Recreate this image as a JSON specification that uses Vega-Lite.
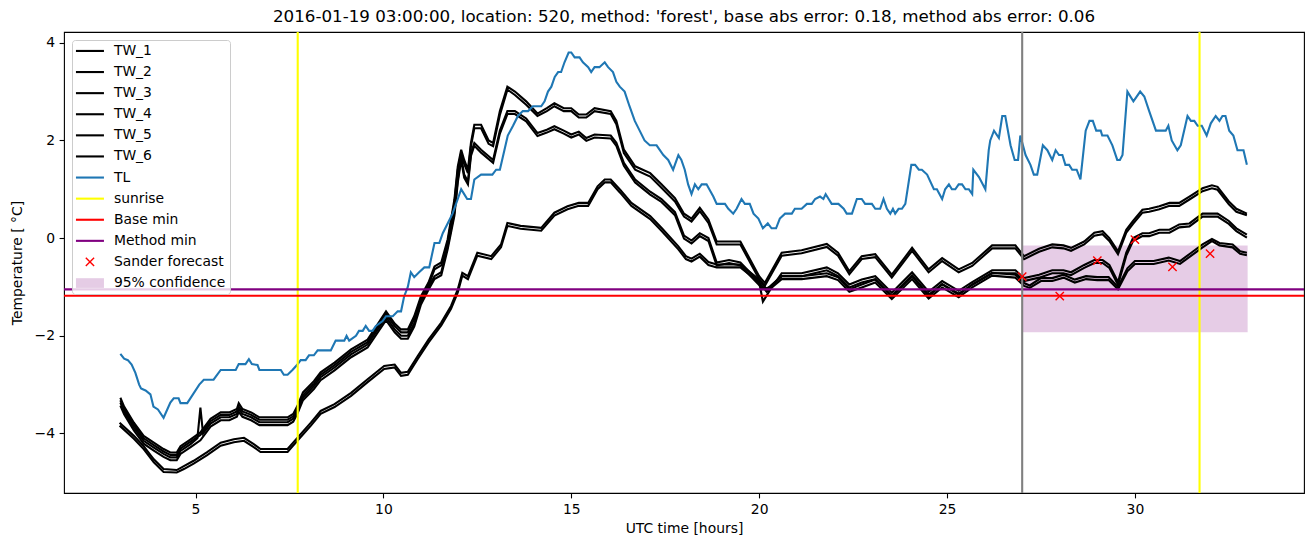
{
  "$schema": "https://vega.github.io/schema/vega-lite/v6.json",
  "width": 1240,
  "height": 461,
  "autosize": {"type": "none"},
  "padding": {"left": 64, "top": 32, "right": 9, "bottom": 54},
  "config": {
    "font": "DejaVu Sans",
    "view": {"stroke": "black", "strokeWidth": 1.1},
    "axis": {"labelFontSize": 13.9, "titleFontSize": 13.9, "labelColor": "black", "titleColor": "black", "tickColor": "black", "tickSize": 4.9, "tickWidth": 1.1, "domain": false, "grid": false, "labelPadding": 4.5, "titleFontWeight": "normal", "labelFont": "DejaVu Sans", "titleFont": "DejaVu Sans"}
  },
  "title": {"text": "2016-01-19 03:00:00, location: 520, method: 'forest', base abs error: 0.18, method abs error: 0.06", "fontSize": 16.7, "fontWeight": "normal", "font": "DejaVu Sans", "color": "black", "offset": 5, "anchor": "middle"},
  "datasets": {
    "tw": [
{"s":"TW_1","h":3.0,"v":-3.27},{"s":"TW_1","h":3.1,"v":-3.45},{"s":"TW_1","h":3.36,"v":-3.78},{"s":"TW_1","h":3.62,"v":-4.05},{"s":"TW_1","h":3.89,"v":-4.19},{"s":"TW_1","h":4.15,"v":-4.32},{"s":"TW_1","h":4.33,"v":-4.39},{"s":"TW_1","h":4.5,"v":-4.39},{"s":"TW_1","h":4.6,"v":-4.26},{"s":"TW_1","h":4.87,"v":-4.12},{"s":"TW_1","h":5.13,"v":-3.98},{"s":"TW_1","h":5.4,"v":-3.7},{"s":"TW_1","h":5.67,"v":-3.57},{"s":"TW_1","h":5.9,"v":-3.57},{"s":"TW_1","h":6.1,"v":-3.5},{"s":"TW_1","h":6.15,"v":-3.38},{"s":"TW_1","h":6.25,"v":-3.5},{"s":"TW_1","h":6.48,"v":-3.57},{"s":"TW_1","h":6.7,"v":-3.67},{"s":"TW_1","h":7.45,"v":-3.67},{"s":"TW_1","h":7.6,"v":-3.6},{"s":"TW_1","h":7.71,"v":-3.44},{"s":"TW_1","h":7.86,"v":-3.16},{"s":"TW_1","h":8.15,"v":-2.93},{"s":"TW_1","h":8.33,"v":-2.75},{"s":"TW_1","h":8.7,"v":-2.55},{"s":"TW_1","h":9.14,"v":-2.28},{"s":"TW_1","h":9.58,"v":-2.08},{"s":"TW_1","h":10.07,"v":-1.5},{"s":"TW_1","h":10.3,"v":-1.75},{"s":"TW_1","h":10.47,"v":-1.87},{"s":"TW_1","h":10.65,"v":-1.87},{"s":"TW_1","h":10.82,"v":-1.6},
{"s":"TW_1","h":11.0,"v":-1.19},{"s":"TW_1","h":11.2,"v":-0.91},{"s":"TW_1","h":11.36,"v":-0.58},{"s":"TW_1","h":11.54,"v":-0.5},{"s":"TW_1","h":11.71,"v":-0.03},{"s":"TW_1","h":11.89,"v":0.79},{"s":"TW_1","h":11.98,"v":1.47},{"s":"TW_1","h":12.07,"v":1.81},{"s":"TW_1","h":12.15,"v":1.6},{"s":"TW_1","h":12.25,"v":1.4},{"s":"TW_1","h":12.33,"v":1.95},{"s":"TW_1","h":12.42,"v":2.32},{"s":"TW_1","h":12.6,"v":2.32},{"s":"TW_1","h":12.8,"v":2.0},{"s":"TW_1","h":12.92,"v":1.95},{"s":"TW_1","h":13.1,"v":2.6},{"s":"TW_1","h":13.3,"v":3.1},{"s":"TW_1","h":13.5,"v":3.0},{"s":"TW_1","h":13.8,"v":2.8},{"s":"TW_1","h":14.1,"v":2.55},{"s":"TW_1","h":14.35,"v":2.66},{"s":"TW_1","h":14.55,"v":2.76},{"s":"TW_1","h":14.8,"v":2.66},{"s":"TW_1","h":15.0,"v":2.66},{"s":"TW_1","h":15.2,"v":2.53},{"s":"TW_1","h":15.4,"v":2.53},{"s":"TW_1","h":15.62,"v":2.66},{"s":"TW_1","h":16.05,"v":2.6},{"s":"TW_1","h":16.2,"v":2.4},{"s":"TW_1","h":16.4,"v":1.81},{"s":"TW_1","h":16.7,"v":1.47},{"s":"TW_1","h":17.1,"v":1.33},{"s":"TW_1","h":17.4,"v":1.1},{"s":"TW_1","h":17.76,"v":0.82},{"s":"TW_1","h":18.0,"v":0.5},{"s":"TW_1","h":18.2,"v":0.4},{"s":"TW_1","h":18.42,"v":0.62},{"s":"TW_1","h":18.65,"v":0.38},{"s":"TW_1","h":18.87,"v":-0.07},{"s":"TW_1","h":19.5,"v":-0.07},{"s":"TW_1","h":20.0,"v":-0.78},{"s":"TW_1","h":20.15,"v":-0.92},{"s":"TW_1","h":20.6,"v":-0.3},{"s":"TW_1","h":21.13,"v":-0.25},{"s":"TW_1","h":21.8,"v":-0.12},{"s":"TW_1","h":22.1,"v":-0.3},{"s":"TW_1","h":22.4,"v":-0.68},{"s":"TW_1","h":22.73,"v":-0.37},{"s":"TW_1","h":23.09,"v":-0.33},{"s":"TW_1","h":23.53,"v":-0.75},{"s":"TW_1","h":24.07,"v":-0.2},{"s":"TW_1","h":24.51,"v":-0.64},{"s":"TW_1","h":24.87,"v":-0.41},{"s":"TW_1","h":25.31,"v":-0.64},{"s":"TW_1","h":25.67,"v":-0.51},{"s":"TW_1","h":26.2,"v":-0.15},{"s":"TW_1","h":26.82,"v":-0.15},{"s":"TW_1","h":27.05,"v":-0.37},{"s":"TW_1","h":27.45,"v":-0.22},{"s":"TW_1","h":27.8,"v":-0.13},{"s":"TW_1","h":28.1,"v":-0.15},{"s":"TW_1","h":28.3,"v":-0.2},{"s":"TW_1","h":28.65,"v":-0.07},{"s":"TW_1","h":28.92,"v":0.11},{"s":"TW_1","h":29.14,"v":0.14},{"s":"TW_1","h":29.32,"v":0.0},{"s":"TW_1","h":29.55,"v":-0.27},{"s":"TW_1","h":29.77,"v":0.17},{"s":"TW_1","h":29.95,"v":0.35},{"s":"TW_1","h":30.2,"v":0.58},{"s":"TW_1","h":30.38,"v":0.6},{"s":"TW_1","h":30.65,"v":0.65},{"s":"TW_1","h":30.92,"v":0.72},{"s":"TW_1","h":31.18,"v":0.72},{"s":"TW_1","h":31.45,"v":0.85},{"s":"TW_1","h":31.8,"v":1.02},{"s":"TW_1","h":32.05,"v":1.08},{"s":"TW_1","h":32.2,"v":1.05},{"s":"TW_1","h":32.5,"v":0.75},{"s":"TW_1","h":32.7,"v":0.6},{"s":"TW_1","h":32.98,"v":0.5},
{"s":"TW_2","h":3.0,"v":-3.32},{"s":"TW_2","h":3.1,"v":-3.5},{"s":"TW_2","h":3.36,"v":-3.83},{"s":"TW_2","h":3.62,"v":-4.1},{"s":"TW_2","h":3.89,"v":-4.24},{"s":"TW_2","h":4.15,"v":-4.37},{"s":"TW_2","h":4.33,"v":-4.44},{"s":"TW_2","h":4.5,"v":-4.44},{"s":"TW_2","h":4.6,"v":-4.31},{"s":"TW_2","h":4.87,"v":-4.17},{"s":"TW_2","h":5.13,"v":-4.03},{"s":"TW_2","h":5.4,"v":-3.75},{"s":"TW_2","h":5.67,"v":-3.62},{"s":"TW_2","h":5.9,"v":-3.62},{"s":"TW_2","h":6.1,"v":-3.55},{"s":"TW_2","h":6.15,"v":-3.45},{"s":"TW_2","h":6.25,"v":-3.55},{"s":"TW_2","h":6.48,"v":-3.62},{"s":"TW_2","h":6.7,"v":-3.72},{"s":"TW_2","h":7.45,"v":-3.72},{"s":"TW_2","h":7.6,"v":-3.65},{"s":"TW_2","h":7.71,"v":-3.5},{"s":"TW_2","h":7.86,"v":-3.22},{"s":"TW_2","h":8.15,"v":-2.98},{"s":"TW_2","h":8.33,"v":-2.8},{"s":"TW_2","h":8.7,"v":-2.6},{"s":"TW_2","h":9.14,"v":-2.33},{"s":"TW_2","h":9.58,"v":-2.13},{"s":"TW_2","h":10.07,"v":-1.56},{"s":"TW_2","h":10.3,"v":-1.8},{"s":"TW_2","h":10.47,"v":-1.93},{"s":"TW_2","h":10.65,"v":-1.93},{"s":"TW_2","h":10.82,"v":-1.66},
{"s":"TW_2","h":11.0,"v":-1.25},{"s":"TW_2","h":11.2,"v":-0.97},{"s":"TW_2","h":11.36,"v":-0.64},{"s":"TW_2","h":11.54,"v":-0.56},{"s":"TW_2","h":11.71,"v":-0.09},{"s":"TW_2","h":11.89,"v":0.72},{"s":"TW_2","h":11.98,"v":1.4},{"s":"TW_2","h":12.07,"v":1.75},{"s":"TW_2","h":12.15,"v":1.52},{"s":"TW_2","h":12.25,"v":1.33},{"s":"TW_2","h":12.33,"v":1.88},{"s":"TW_2","h":12.42,"v":2.25},{"s":"TW_2","h":12.6,"v":2.25},{"s":"TW_2","h":12.8,"v":1.93},{"s":"TW_2","h":12.92,"v":1.88},{"s":"TW_2","h":13.1,"v":2.52},{"s":"TW_2","h":13.3,"v":3.04},{"s":"TW_2","h":13.5,"v":2.93},{"s":"TW_2","h":13.8,"v":2.73},{"s":"TW_2","h":14.1,"v":2.5},{"s":"TW_2","h":14.35,"v":2.6},{"s":"TW_2","h":14.55,"v":2.7},{"s":"TW_2","h":14.8,"v":2.6},{"s":"TW_2","h":15.0,"v":2.6},{"s":"TW_2","h":15.2,"v":2.47},{"s":"TW_2","h":15.4,"v":2.47},{"s":"TW_2","h":15.62,"v":2.6},{"s":"TW_2","h":16.05,"v":2.54},{"s":"TW_2","h":16.2,"v":2.33},{"s":"TW_2","h":16.4,"v":1.74},{"s":"TW_2","h":16.7,"v":1.4},{"s":"TW_2","h":17.1,"v":1.26},{"s":"TW_2","h":17.4,"v":1.03},{"s":"TW_2","h":17.76,"v":0.75},{"s":"TW_2","h":18.0,"v":0.44},{"s":"TW_2","h":18.2,"v":0.34},{"s":"TW_2","h":18.42,"v":0.55},{"s":"TW_2","h":18.65,"v":0.31},{"s":"TW_2","h":18.87,"v":-0.13},{"s":"TW_2","h":19.5,"v":-0.13},{"s":"TW_2","h":20.0,"v":-0.84},{"s":"TW_2","h":20.15,"v":-0.98},{"s":"TW_2","h":20.6,"v":-0.36},{"s":"TW_2","h":21.13,"v":-0.31},{"s":"TW_2","h":21.8,"v":-0.18},{"s":"TW_2","h":22.1,"v":-0.36},{"s":"TW_2","h":22.4,"v":-0.74},{"s":"TW_2","h":22.73,"v":-0.43},{"s":"TW_2","h":23.09,"v":-0.39},{"s":"TW_2","h":23.53,"v":-0.81},{"s":"TW_2","h":24.07,"v":-0.26},{"s":"TW_2","h":24.51,"v":-0.7},{"s":"TW_2","h":24.87,"v":-0.47},{"s":"TW_2","h":25.31,"v":-0.7},{"s":"TW_2","h":25.67,"v":-0.57},{"s":"TW_2","h":26.2,"v":-0.21},{"s":"TW_2","h":26.82,"v":-0.21},{"s":"TW_2","h":27.05,"v":-0.43},{"s":"TW_2","h":27.45,"v":-0.28},{"s":"TW_2","h":27.8,"v":-0.19},{"s":"TW_2","h":28.1,"v":-0.21},{"s":"TW_2","h":28.3,"v":-0.26},{"s":"TW_2","h":28.65,"v":-0.13},{"s":"TW_2","h":28.92,"v":0.05},{"s":"TW_2","h":29.14,"v":0.08},{"s":"TW_2","h":29.32,"v":-0.06},{"s":"TW_2","h":29.55,"v":-0.33},{"s":"TW_2","h":29.77,"v":0.11},{"s":"TW_2","h":29.95,"v":0.29},{"s":"TW_2","h":30.2,"v":0.52},{"s":"TW_2","h":30.38,"v":0.54},{"s":"TW_2","h":30.65,"v":0.59},{"s":"TW_2","h":30.92,"v":0.66},{"s":"TW_2","h":31.18,"v":0.66},{"s":"TW_2","h":31.45,"v":0.79},{"s":"TW_2","h":31.8,"v":0.96},{"s":"TW_2","h":32.05,"v":1.02},{"s":"TW_2","h":32.2,"v":0.99},{"s":"TW_2","h":32.5,"v":0.69},{"s":"TW_2","h":32.7,"v":0.54},{"s":"TW_2","h":32.98,"v":0.47},
{"s":"TW_3","h":3.0,"v":-3.37},{"s":"TW_3","h":3.1,"v":-3.55},{"s":"TW_3","h":3.36,"v":-3.88},{"s":"TW_3","h":3.62,"v":-4.15},{"s":"TW_3","h":3.89,"v":-4.29},{"s":"TW_3","h":4.15,"v":-4.42},{"s":"TW_3","h":4.33,"v":-4.49},{"s":"TW_3","h":4.5,"v":-4.49},{"s":"TW_3","h":4.6,"v":-4.36},{"s":"TW_3","h":4.87,"v":-4.22},{"s":"TW_3","h":5.05,"v":-4.1},{"s":"TW_3","h":5.13,"v":-3.47},{"s":"TW_3","h":5.2,"v":-4.0},{"s":"TW_3","h":5.4,"v":-3.8},{"s":"TW_3","h":5.67,"v":-3.67},{"s":"TW_3","h":5.9,"v":-3.67},{"s":"TW_3","h":6.1,"v":-3.6},{"s":"TW_3","h":6.15,"v":-3.5},{"s":"TW_3","h":6.25,"v":-3.6},{"s":"TW_3","h":6.48,"v":-3.67},{"s":"TW_3","h":6.7,"v":-3.77},{"s":"TW_3","h":7.45,"v":-3.77},{"s":"TW_3","h":7.6,"v":-3.7},{"s":"TW_3","h":7.71,"v":-3.55},{"s":"TW_3","h":7.86,"v":-3.27},{"s":"TW_3","h":8.15,"v":-3.03},{"s":"TW_3","h":8.33,"v":-2.85},{"s":"TW_3","h":8.7,"v":-2.65},{"s":"TW_3","h":9.14,"v":-2.38},{"s":"TW_3","h":9.58,"v":-2.18},{"s":"TW_3","h":10.07,"v":-1.62},{"s":"TW_3","h":10.3,"v":-1.87},{"s":"TW_3","h":10.47,"v":-2.0},{"s":"TW_3","h":10.65,"v":-2.0},
{"s":"TW_3","h":10.82,"v":-1.75},{"s":"TW_3","h":11.0,"v":-1.3},{"s":"TW_3","h":11.2,"v":-1.0},{"s":"TW_3","h":11.36,"v":-0.78},{"s":"TW_3","h":11.54,"v":-0.7},{"s":"TW_3","h":11.71,"v":-0.17},{"s":"TW_3","h":11.89,"v":0.52},{"s":"TW_3","h":11.98,"v":1.2},{"s":"TW_3","h":12.07,"v":1.67},{"s":"TW_3","h":12.15,"v":1.3},{"s":"TW_3","h":12.25,"v":1.16},{"s":"TW_3","h":12.33,"v":1.74},{"s":"TW_3","h":12.42,"v":1.95},{"s":"TW_3","h":12.6,"v":1.81},{"s":"TW_3","h":12.92,"v":1.6},{"s":"TW_3","h":13.1,"v":2.2},{"s":"TW_3","h":13.3,"v":2.6},{"s":"TW_3","h":13.5,"v":2.6},{"s":"TW_3","h":13.8,"v":2.45},{"s":"TW_3","h":14.1,"v":2.15},{"s":"TW_3","h":14.35,"v":2.22},{"s":"TW_3","h":14.55,"v":2.29},{"s":"TW_3","h":14.8,"v":2.2},{"s":"TW_3","h":15.0,"v":2.12},{"s":"TW_3","h":15.2,"v":2.18},{"s":"TW_3","h":15.4,"v":2.05},{"s":"TW_3","h":15.62,"v":2.12},{"s":"TW_3","h":16.05,"v":2.1},{"s":"TW_3","h":16.2,"v":1.95},{"s":"TW_3","h":16.4,"v":1.54},{"s":"TW_3","h":16.7,"v":1.2},{"s":"TW_3","h":17.1,"v":0.95},{"s":"TW_3","h":17.4,"v":0.8},{"s":"TW_3","h":17.76,"v":0.53},{"s":"TW_3","h":18.0,"v":0.05},{"s":"TW_3","h":18.2,"v":-0.05},{"s":"TW_3","h":18.42,"v":0.1},{"s":"TW_3","h":18.65,"v":0.0},{"s":"TW_3","h":18.87,"v":-0.5},{"s":"TW_3","h":19.2,"v":-0.45},{"s":"TW_3","h":19.5,"v":-0.5},{"s":"TW_3","h":20.0,"v":-0.9},{"s":"TW_3","h":20.1,"v":-1.3},{"s":"TW_3","h":20.3,"v":-1.05},{"s":"TW_3","h":20.6,"v":-0.72},{"s":"TW_3","h":21.13,"v":-0.72},{"s":"TW_3","h":21.8,"v":-0.6},{"s":"TW_3","h":22.1,"v":-0.72},{"s":"TW_3","h":22.4,"v":-0.95},{"s":"TW_3","h":22.73,"v":-0.85},{"s":"TW_3","h":23.09,"v":-0.78},{"s":"TW_3","h":23.53,"v":-1.12},{"s":"TW_3","h":24.07,"v":-0.7},{"s":"TW_3","h":24.51,"v":-1.1},{"s":"TW_3","h":24.87,"v":-0.88},{"s":"TW_3","h":25.31,"v":-1.08},{"s":"TW_3","h":25.67,"v":-0.9},{"s":"TW_3","h":26.2,"v":-0.66},{"s":"TW_3","h":26.82,"v":-0.66},{"s":"TW_3","h":27.05,"v":-0.82},{"s":"TW_3","h":27.45,"v":-0.75},{"s":"TW_3","h":27.8,"v":-0.66},{"s":"TW_3","h":28.1,"v":-0.66},{"s":"TW_3","h":28.3,"v":-0.7},{"s":"TW_3","h":28.65,"v":-0.55},{"s":"TW_3","h":28.92,"v":-0.45},{"s":"TW_3","h":29.14,"v":-0.45},{"s":"TW_3","h":29.32,"v":-0.55},{"s":"TW_3","h":29.55,"v":-0.9},{"s":"TW_3","h":29.77,"v":-0.3},{"s":"TW_3","h":29.95,"v":0.0},{"s":"TW_3","h":30.2,"v":0.1},{"s":"TW_3","h":30.38,"v":0.1},{"s":"TW_3","h":30.65,"v":0.17},{"s":"TW_3","h":30.92,"v":0.17},{"s":"TW_3","h":31.18,"v":0.28},{"s":"TW_3","h":31.45,"v":0.3},{"s":"TW_3","h":31.8,"v":0.5},{"s":"TW_3","h":32.05,"v":0.5},{"s":"TW_3","h":32.2,"v":0.5},{"s":"TW_3","h":32.5,"v":0.35},{"s":"TW_3","h":32.7,"v":0.2},{"s":"TW_3","h":32.98,"v":0.07},
{"s":"TW_4","h":3.0,"v":-3.43},{"s":"TW_4","h":3.1,"v":-3.61},{"s":"TW_4","h":3.36,"v":-3.94},{"s":"TW_4","h":3.62,"v":-4.21},{"s":"TW_4","h":3.89,"v":-4.35},{"s":"TW_4","h":4.15,"v":-4.48},{"s":"TW_4","h":4.33,"v":-4.55},{"s":"TW_4","h":4.5,"v":-4.55},{"s":"TW_4","h":4.6,"v":-4.42},{"s":"TW_4","h":4.87,"v":-4.28},{"s":"TW_4","h":5.13,"v":-4.14},{"s":"TW_4","h":5.4,"v":-3.86},{"s":"TW_4","h":5.67,"v":-3.73},{"s":"TW_4","h":5.9,"v":-3.73},{"s":"TW_4","h":6.1,"v":-3.66},{"s":"TW_4","h":6.15,"v":-3.56},{"s":"TW_4","h":6.25,"v":-3.66},{"s":"TW_4","h":6.48,"v":-3.73},{"s":"TW_4","h":6.7,"v":-3.83},{"s":"TW_4","h":7.45,"v":-3.83},{"s":"TW_4","h":7.6,"v":-3.76},{"s":"TW_4","h":7.71,"v":-3.6},{"s":"TW_4","h":7.86,"v":-3.32},{"s":"TW_4","h":8.15,"v":-3.09},{"s":"TW_4","h":8.33,"v":-2.91},{"s":"TW_4","h":8.7,"v":-2.71},{"s":"TW_4","h":9.14,"v":-2.44},{"s":"TW_4","h":9.58,"v":-2.24},{"s":"TW_4","h":10.07,"v":-1.68},{"s":"TW_4","h":10.3,"v":-1.93},{"s":"TW_4","h":10.47,"v":-2.06},{"s":"TW_4","h":10.65,"v":-2.06},
{"s":"TW_4","h":10.82,"v":-1.81},{"s":"TW_4","h":11.0,"v":-1.36},{"s":"TW_4","h":11.2,"v":-1.06},{"s":"TW_4","h":11.36,"v":-0.84},{"s":"TW_4","h":11.54,"v":-0.76},{"s":"TW_4","h":11.71,"v":-0.23},{"s":"TW_4","h":11.89,"v":0.46},{"s":"TW_4","h":11.98,"v":1.14},{"s":"TW_4","h":12.07,"v":1.6},{"s":"TW_4","h":12.15,"v":1.24},{"s":"TW_4","h":12.25,"v":1.1},{"s":"TW_4","h":12.33,"v":1.68},{"s":"TW_4","h":12.42,"v":1.89},{"s":"TW_4","h":12.6,"v":1.75},{"s":"TW_4","h":12.92,"v":1.54},{"s":"TW_4","h":13.1,"v":2.14},{"s":"TW_4","h":13.3,"v":2.54},{"s":"TW_4","h":13.5,"v":2.54},{"s":"TW_4","h":13.8,"v":2.39},{"s":"TW_4","h":14.1,"v":2.09},{"s":"TW_4","h":14.35,"v":2.16},{"s":"TW_4","h":14.55,"v":2.23},{"s":"TW_4","h":14.8,"v":2.14},{"s":"TW_4","h":15.0,"v":2.06},{"s":"TW_4","h":15.2,"v":2.12},{"s":"TW_4","h":15.4,"v":1.99},{"s":"TW_4","h":15.62,"v":2.06},{"s":"TW_4","h":16.05,"v":2.04},{"s":"TW_4","h":16.2,"v":1.89},{"s":"TW_4","h":16.4,"v":1.48},{"s":"TW_4","h":16.7,"v":1.14},{"s":"TW_4","h":17.1,"v":0.89},{"s":"TW_4","h":17.4,"v":0.74},{"s":"TW_4","h":17.76,"v":0.47},{"s":"TW_4","h":18.0,"v":-0.01},{"s":"TW_4","h":18.2,"v":-0.11},{"s":"TW_4","h":18.42,"v":0.04},{"s":"TW_4","h":18.65,"v":-0.06},{"s":"TW_4","h":18.87,"v":-0.56},{"s":"TW_4","h":19.2,"v":-0.51},{"s":"TW_4","h":19.5,"v":-0.56},{"s":"TW_4","h":20.0,"v":-0.96},{"s":"TW_4","h":20.1,"v":-1.05},{"s":"TW_4","h":20.3,"v":-1.0},{"s":"TW_4","h":20.6,"v":-0.78},{"s":"TW_4","h":21.13,"v":-0.78},{"s":"TW_4","h":21.8,"v":-0.66},{"s":"TW_4","h":22.1,"v":-0.78},{"s":"TW_4","h":22.4,"v":-1.01},{"s":"TW_4","h":22.73,"v":-0.91},{"s":"TW_4","h":23.09,"v":-0.84},{"s":"TW_4","h":23.53,"v":-1.18},{"s":"TW_4","h":24.07,"v":-0.76},{"s":"TW_4","h":24.51,"v":-1.16},{"s":"TW_4","h":24.87,"v":-0.94},{"s":"TW_4","h":25.31,"v":-1.14},{"s":"TW_4","h":25.67,"v":-0.96},{"s":"TW_4","h":26.2,"v":-0.72},{"s":"TW_4","h":26.82,"v":-0.72},{"s":"TW_4","h":27.05,"v":-0.88},{"s":"TW_4","h":27.45,"v":-0.81},{"s":"TW_4","h":27.8,"v":-0.72},{"s":"TW_4","h":28.1,"v":-0.72},{"s":"TW_4","h":28.3,"v":-0.76},{"s":"TW_4","h":28.65,"v":-0.61},{"s":"TW_4","h":28.92,"v":-0.51},{"s":"TW_4","h":29.14,"v":-0.51},{"s":"TW_4","h":29.32,"v":-0.61},{"s":"TW_4","h":29.55,"v":-0.96},{"s":"TW_4","h":29.77,"v":-0.36},{"s":"TW_4","h":29.95,"v":-0.06},{"s":"TW_4","h":30.2,"v":0.04},{"s":"TW_4","h":30.38,"v":0.04},{"s":"TW_4","h":30.65,"v":0.11},{"s":"TW_4","h":30.92,"v":0.11},{"s":"TW_4","h":31.18,"v":0.22},{"s":"TW_4","h":31.45,"v":0.24},{"s":"TW_4","h":31.8,"v":0.44},{"s":"TW_4","h":32.05,"v":0.44},{"s":"TW_4","h":32.2,"v":0.44},{"s":"TW_4","h":32.5,"v":0.29},{"s":"TW_4","h":32.7,"v":0.14},{"s":"TW_4","h":32.98,"v":0.01},
{"s":"TW_5","h":2.98,"v":-3.78},{"s":"TW_5","h":3.36,"v":-4.05},{"s":"TW_5","h":3.62,"v":-4.26},{"s":"TW_5","h":3.89,"v":-4.53},{"s":"TW_5","h":4.15,"v":-4.73},{"s":"TW_5","h":4.5,"v":-4.75},{"s":"TW_5","h":4.69,"v":-4.67},{"s":"TW_5","h":4.95,"v":-4.56},{"s":"TW_5","h":5.3,"v":-4.39},{"s":"TW_5","h":5.67,"v":-4.19},{"s":"TW_5","h":6.02,"v":-4.12},{"s":"TW_5","h":6.29,"v":-4.09},{"s":"TW_5","h":6.55,"v":-4.22},{"s":"TW_5","h":6.73,"v":-4.32},{"s":"TW_5","h":7.45,"v":-4.32},{"s":"TW_5","h":7.71,"v":-4.09},{"s":"TW_5","h":8.07,"v":-3.78},{"s":"TW_5","h":8.33,"v":-3.54},{"s":"TW_5","h":8.7,"v":-3.4},{"s":"TW_5","h":9.14,"v":-3.17},{"s":"TW_5","h":9.58,"v":-2.89},{"s":"TW_5","h":10.02,"v":-2.62},{"s":"TW_5","h":10.3,"v":-2.59},{"s":"TW_5","h":10.47,"v":-2.76},{"s":"TW_5","h":10.65,"v":-2.74},{"s":"TW_5","h":10.91,"v":-2.42},{"s":"TW_5","h":11.2,"v":-2.08},{"s":"TW_5","h":11.54,"v":-1.73},{"s":"TW_5","h":11.8,"v":-1.39},{"s":"TW_5","h":11.98,"v":-1.05},{"s":"TW_5","h":12.1,"v":-0.71},{"s":"TW_5","h":12.25,"v":-0.78},{"s":"TW_5","h":12.5,"v":-0.3},{"s":"TW_5","h":12.87,"v":-0.37},{"s":"TW_5","h":13.13,"v":-0.13},{"s":"TW_5","h":13.3,"v":0.31},{"s":"TW_5","h":13.65,"v":0.25},{"s":"TW_5","h":14.2,"v":0.21},{"s":"TW_5","h":14.55,"v":0.52},{"s":"TW_5","h":14.9,"v":0.65},{"s":"TW_5","h":15.2,"v":0.72},{"s":"TW_5","h":15.45,"v":0.72},{"s":"TW_5","h":15.7,"v":1.06},{"s":"TW_5","h":15.89,"v":1.2},{"s":"TW_5","h":16.05,"v":1.2},{"s":"TW_5","h":16.3,"v":0.99},{"s":"TW_5","h":16.6,"v":0.72},{"s":"TW_5","h":17.1,"v":0.45},{"s":"TW_5","h":17.4,"v":0.21},{"s":"TW_5","h":17.85,"v":-0.17},{"s":"TW_5","h":18.05,"v":-0.37},{"s":"TW_5","h":18.2,"v":-0.42},{"s":"TW_5","h":18.42,"v":-0.32},{"s":"TW_5","h":18.65,"v":-0.49},{"s":"TW_5","h":18.87,"v":-0.54},{"s":"TW_5","h":19.5,"v":-0.54},{"s":"TW_5","h":20.0,"v":-0.85},{"s":"TW_5","h":20.2,"v":-1.05},{"s":"TW_5","h":20.6,"v":-0.78},{"s":"TW_5","h":21.13,"v":-0.78},{"s":"TW_5","h":21.8,"v":-0.72},{"s":"TW_5","h":22.1,"v":-0.8},{"s":"TW_5","h":22.4,"v":-1.05},{"s":"TW_5","h":22.73,"v":-0.95},{"s":"TW_5","h":23.09,"v":-0.85},{"s":"TW_5","h":23.53,"v":-1.2},{"s":"TW_5","h":24.07,"v":-0.78},{"s":"TW_5","h":24.51,"v":-1.19},{"s":"TW_5","h":24.87,"v":-0.95},{"s":"TW_5","h":25.31,"v":-1.16},{"s":"TW_5","h":25.67,"v":-0.95},{"s":"TW_5","h":26.2,"v":-0.71},{"s":"TW_5","h":26.82,"v":-0.75},{"s":"TW_5","h":27.05,"v":-0.92},{"s":"TW_5","h":27.2,"v":-0.97},{"s":"TW_5","h":27.5,"v":-0.82},{"s":"TW_5","h":27.8,"v":-0.82},{"s":"TW_5","h":28.1,"v":-0.75},{"s":"TW_5","h":28.4,"v":-0.85},{"s":"TW_5","h":28.7,"v":-0.78},{"s":"TW_5","h":29.0,"v":-0.8},{"s":"TW_5","h":29.3,"v":-0.8},{"s":"TW_5","h":29.55,"v":-1.0},{"s":"TW_5","h":29.8,"v":-0.62},{"s":"TW_5","h":30.0,"v":-0.47},{"s":"TW_5","h":30.5,"v":-0.47},{"s":"TW_5","h":30.9,"v":-0.4},{"s":"TW_5","h":31.2,"v":-0.47},{"s":"TW_5","h":31.5,"v":-0.3},{"s":"TW_5","h":31.8,"v":-0.13},{"s":"TW_5","h":32.05,"v":-0.02},{"s":"TW_5","h":32.25,"v":-0.1},{"s":"TW_5","h":32.6,"v":-0.13},{"s":"TW_5","h":32.8,"v":-0.27},{"s":"TW_5","h":32.98,"v":-0.3},
{"s":"TW_6","h":2.98,"v":-3.84},{"s":"TW_6","h":3.36,"v":-4.11},{"s":"TW_6","h":3.62,"v":-4.32},{"s":"TW_6","h":3.89,"v":-4.59},{"s":"TW_6","h":4.15,"v":-4.79},{"s":"TW_6","h":4.5,"v":-4.8},{"s":"TW_6","h":4.69,"v":-4.73},{"s":"TW_6","h":4.95,"v":-4.62},{"s":"TW_6","h":5.3,"v":-4.45},{"s":"TW_6","h":5.67,"v":-4.25},{"s":"TW_6","h":6.02,"v":-4.18},{"s":"TW_6","h":6.29,"v":-4.15},{"s":"TW_6","h":6.55,"v":-4.28},{"s":"TW_6","h":6.73,"v":-4.38},{"s":"TW_6","h":7.45,"v":-4.38},{"s":"TW_6","h":7.71,"v":-4.15},{"s":"TW_6","h":8.07,"v":-3.84},{"s":"TW_6","h":8.33,"v":-3.6},{"s":"TW_6","h":8.7,"v":-3.46},{"s":"TW_6","h":9.14,"v":-3.23},{"s":"TW_6","h":9.58,"v":-2.95},{"s":"TW_6","h":10.02,"v":-2.68},{"s":"TW_6","h":10.3,"v":-2.65},{"s":"TW_6","h":10.47,"v":-2.82},{"s":"TW_6","h":10.65,"v":-2.8},{"s":"TW_6","h":10.91,"v":-2.48},{"s":"TW_6","h":11.2,"v":-2.14},{"s":"TW_6","h":11.54,"v":-1.79},{"s":"TW_6","h":11.8,"v":-1.45},{"s":"TW_6","h":11.98,"v":-1.11},{"s":"TW_6","h":12.1,"v":-0.77},{"s":"TW_6","h":12.25,"v":-0.84},{"s":"TW_6","h":12.5,"v":-0.36},{"s":"TW_6","h":12.87,"v":-0.43},{"s":"TW_6","h":13.13,"v":-0.19},{"s":"TW_6","h":13.3,"v":0.25},{"s":"TW_6","h":13.65,"v":0.19},{"s":"TW_6","h":14.2,"v":0.15},{"s":"TW_6","h":14.55,"v":0.46},{"s":"TW_6","h":14.9,"v":0.59},{"s":"TW_6","h":15.2,"v":0.66},{"s":"TW_6","h":15.45,"v":0.66},{"s":"TW_6","h":15.7,"v":1.0},{"s":"TW_6","h":15.89,"v":1.14},{"s":"TW_6","h":16.05,"v":1.14},{"s":"TW_6","h":16.3,"v":0.93},{"s":"TW_6","h":16.6,"v":0.66},{"s":"TW_6","h":17.1,"v":0.39},{"s":"TW_6","h":17.4,"v":0.15},{"s":"TW_6","h":17.85,"v":-0.23},{"s":"TW_6","h":18.05,"v":-0.43},{"s":"TW_6","h":18.2,"v":-0.48},{"s":"TW_6","h":18.42,"v":-0.38},{"s":"TW_6","h":18.65,"v":-0.55},{"s":"TW_6","h":18.87,"v":-0.6},{"s":"TW_6","h":19.5,"v":-0.6},{"s":"TW_6","h":20.0,"v":-0.91},{"s":"TW_6","h":20.2,"v":-1.1},{"s":"TW_6","h":20.6,"v":-0.84},{"s":"TW_6","h":21.13,"v":-0.84},{"s":"TW_6","h":21.8,"v":-0.78},{"s":"TW_6","h":22.1,"v":-0.86},{"s":"TW_6","h":22.4,"v":-1.1},{"s":"TW_6","h":22.73,"v":-1.01},{"s":"TW_6","h":23.09,"v":-0.91},{"s":"TW_6","h":23.53,"v":-1.25},{"s":"TW_6","h":24.07,"v":-0.84},{"s":"TW_6","h":24.51,"v":-1.24},{"s":"TW_6","h":24.87,"v":-1.01},{"s":"TW_6","h":25.31,"v":-1.21},{"s":"TW_6","h":25.67,"v":-1.01},{"s":"TW_6","h":26.2,"v":-0.77},{"s":"TW_6","h":26.82,"v":-0.81},{"s":"TW_6","h":27.05,"v":-0.98},{"s":"TW_6","h":27.2,"v":-1.02},{"s":"TW_6","h":27.5,"v":-0.88},{"s":"TW_6","h":27.8,"v":-0.88},{"s":"TW_6","h":28.1,"v":-0.81},{"s":"TW_6","h":28.4,"v":-0.91},{"s":"TW_6","h":28.7,"v":-0.84},{"s":"TW_6","h":29.0,"v":-0.86},{"s":"TW_6","h":29.3,"v":-0.86},{"s":"TW_6","h":29.55,"v":-1.05},{"s":"TW_6","h":29.8,"v":-0.68},{"s":"TW_6","h":30.0,"v":-0.53},{"s":"TW_6","h":30.5,"v":-0.53},{"s":"TW_6","h":30.9,"v":-0.46},{"s":"TW_6","h":31.2,"v":-0.53},{"s":"TW_6","h":31.5,"v":-0.36},{"s":"TW_6","h":31.8,"v":-0.19},{"s":"TW_6","h":32.05,"v":-0.06},{"s":"TW_6","h":32.25,"v":-0.15},{"s":"TW_6","h":32.6,"v":-0.19},{"s":"TW_6","h":32.8,"v":-0.32},{"s":"TW_6","h":32.98,"v":-0.35},
{"s":"TL","h":3.0,"v":-2.37},{"s":"TL","h":3.1,"v":-2.47},{"s":"TL","h":3.2,"v":-2.5},{"s":"TL","h":3.3,"v":-2.59},{"s":"TL","h":3.4,"v":-2.76},{"s":"TL","h":3.5,"v":-3.0},{"s":"TL","h":3.55,"v":-3.08},{"s":"TL","h":3.67,"v":-3.12},{"s":"TL","h":3.8,"v":-3.2},{"s":"TL","h":3.88,"v":-3.45},{"s":"TL","h":4.0,"v":-3.51},{"s":"TL","h":4.15,"v":-3.68},{"s":"TL","h":4.33,"v":-3.37},{"s":"TL","h":4.42,"v":-3.28},{"s":"TL","h":4.55,"v":-3.28},{"s":"TL","h":4.6,"v":-3.38},{"s":"TL","h":4.78,"v":-3.38},{"s":"TL","h":5.1,"v":-3.0},{"s":"TL","h":5.22,"v":-2.9},{"s":"TL","h":5.48,"v":-2.9},{"s":"TL","h":5.67,"v":-2.7},{"s":"TL","h":6.07,"v":-2.7},{"s":"TL","h":6.15,"v":-2.58},{"s":"TL","h":6.33,"v":-2.58},{"s":"TL","h":6.42,"v":-2.48},{"s":"TL","h":6.5,"v":-2.58},{"s":"TL","h":6.65,"v":-2.6},{"s":"TL","h":6.7,"v":-2.7},{"s":"TL","h":7.27,"v":-2.7},{"s":"TL","h":7.35,"v":-2.8},{"s":"TL","h":7.45,"v":-2.8},{"s":"TL","h":7.58,"v":-2.7},{"s":"TL","h":7.7,"v":-2.6},{"s":"TL","h":7.8,"v":-2.5},{"s":"TL","h":7.93,"v":-2.5},{"s":"TL","h":8.02,"v":-2.4},{"s":"TL","h":8.15,"v":-2.4},{"s":"TL","h":8.25,"v":-2.3},{"s":"TL","h":8.6,"v":-2.3},{"s":"TL","h":8.73,"v":-2.1},{"s":"TL","h":8.96,"v":-2.1},{"s":"TL","h":9.02,"v":-2.0},{"s":"TL","h":9.09,"v":-2.1},{"s":"TL","h":9.27,"v":-2.0},{"s":"TL","h":9.35,"v":-1.9},{"s":"TL","h":9.45,"v":-1.9},{"s":"TL","h":9.53,"v":-1.8},{"s":"TL","h":9.62,"v":-1.9},{"s":"TL","h":9.71,"v":-1.9},{"s":"TL","h":9.8,"v":-1.8},{"s":"TL","h":9.98,"v":-1.7},{"s":"TL","h":10.07,"v":-1.6},{"s":"TL","h":10.25,"v":-1.6},{"s":"TL","h":10.38,"v":-1.5},{"s":"TL","h":10.47,"v":-1.5},{"s":"TL","h":10.55,"v":-1.2},{"s":"TL","h":10.65,"v":-1.0},{"s":"TL","h":10.73,"v":-0.7},{"s":"TL","h":10.82,"v":-0.8},{"s":"TL","h":10.95,"v":-0.7},{"s":"TL","h":11.09,"v":-0.6},{"s":"TL","h":11.22,"v":-0.6},{"s":"TL","h":11.36,"v":-0.1},{"s":"TL","h":11.49,"v":-0.1},{"s":"TL","h":11.58,"v":0.1},{"s":"TL","h":11.71,"v":0.3},{"s":"TL","h":11.84,"v":0.5},{"s":"TL","h":11.98,"v":0.8},{"s":"TL","h":12.07,"v":1.0},{"s":"TL","h":12.15,"v":0.9},{"s":"TL","h":12.23,"v":0.8},{"s":"TL","h":12.33,"v":0.8},{"s":"TL","h":12.42,"v":1.2},{"s":"TL","h":12.6,"v":1.3},{"s":"TL","h":12.9,"v":1.3},{"s":"TL","h":13.0,"v":1.4},{"s":"TL","h":13.1,"v":1.4},{"s":"TL","h":13.22,"v":1.8},{"s":"TL","h":13.31,"v":2.1},{"s":"TL","h":13.45,"v":2.3},{"s":"TL","h":13.58,"v":2.5},{"s":"TL","h":13.71,"v":2.6},{"s":"TL","h":13.85,"v":2.6},{"s":"TL","h":13.98,"v":2.7},{"s":"TL","h":14.2,"v":2.7},{"s":"TL","h":14.29,"v":2.8},{"s":"TL","h":14.38,"v":3.0},{"s":"TL","h":14.47,"v":3.1},{"s":"TL","h":14.56,"v":3.3},{"s":"TL","h":14.65,"v":3.4},{"s":"TL","h":14.73,"v":3.4},{"s":"TL","h":14.82,"v":3.6},{"s":"TL","h":14.93,"v":3.8},{"s":"TL","h":15.0,"v":3.8},{"s":"TL","h":15.09,"v":3.7},{"s":"TL","h":15.22,"v":3.7},{"s":"TL","h":15.31,"v":3.6},{"s":"TL","h":15.45,"v":3.5},{"s":"TL","h":15.53,"v":3.4},{"s":"TL","h":15.62,"v":3.5},{"s":"TL","h":15.75,"v":3.5},{"s":"TL","h":15.89,"v":3.6},{"s":"TL","h":15.98,"v":3.5},{"s":"TL","h":16.11,"v":3.4},{"s":"TL","h":16.2,"v":3.2},{"s":"TL","h":16.29,"v":3.1},{"s":"TL","h":16.42,"v":3.0},{"s":"TL","h":16.55,"v":2.7},{"s":"TL","h":16.69,"v":2.4},{"s":"TL","h":16.82,"v":2.2},{"s":"TL","h":16.95,"v":2.0},{"s":"TL","h":17.09,"v":1.9},{"s":"TL","h":17.27,"v":1.9},{"s":"TL","h":17.45,"v":1.7},{"s":"TL","h":17.58,"v":1.6},{"s":"TL","h":17.71,"v":1.4},{"s":"TL","h":17.85,"v":1.7},{"s":"TL","h":17.93,"v":1.6},{"s":"TL","h":18.02,"v":1.4},{"s":"TL","h":18.11,"v":1.1},{"s":"TL","h":18.2,"v":0.9},{"s":"TL","h":18.29,"v":1.1},{"s":"TL","h":18.38,"v":1.0},{"s":"TL","h":18.47,"v":1.1},{"s":"TL","h":18.6,"v":1.1},{"s":"TL","h":18.78,"v":0.85},{"s":"TL","h":18.87,"v":0.7},{"s":"TL","h":19.09,"v":0.7},{"s":"TL","h":19.18,"v":0.6},{"s":"TL","h":19.31,"v":0.5},{"s":"TL","h":19.4,"v":0.6},{"s":"TL","h":19.53,"v":0.8},{"s":"TL","h":19.62,"v":0.7},{"s":"TL","h":19.75,"v":0.7},{"s":"TL","h":19.85,"v":0.5},{"s":"TL","h":19.98,"v":0.4},{"s":"TL","h":20.1,"v":0.2},{"s":"TL","h":20.23,"v":0.3},{"s":"TL","h":20.33,"v":0.2},{"s":"TL","h":20.45,"v":0.2},{"s":"TL","h":20.55,"v":0.4},{"s":"TL","h":20.69,"v":0.5},{"s":"TL","h":20.87,"v":0.5},{"s":"TL","h":20.95,"v":0.6},{"s":"TL","h":21.13,"v":0.6},{"s":"TL","h":21.27,"v":0.7},{"s":"TL","h":21.4,"v":0.7},{"s":"TL","h":21.49,"v":0.8},{"s":"TL","h":21.62,"v":0.85},{"s":"TL","h":21.71,"v":0.8},{"s":"TL","h":21.77,"v":0.9},{"s":"TL","h":21.85,"v":0.8},{"s":"TL","h":21.93,"v":0.7},{"s":"TL","h":22.11,"v":0.7},{"s":"TL","h":22.25,"v":0.6},{"s":"TL","h":22.33,"v":0.5},{"s":"TL","h":22.47,"v":0.5},{"s":"TL","h":22.6,"v":0.8},{"s":"TL","h":22.73,"v":0.8},{"s":"TL","h":22.82,"v":0.7},{"s":"TL","h":23.0,"v":0.7},{"s":"TL","h":23.09,"v":0.6},{"s":"TL","h":23.22,"v":0.6},{"s":"TL","h":23.31,"v":0.8},{"s":"TL","h":23.4,"v":0.6},{"s":"TL","h":23.49,"v":0.5},{"s":"TL","h":23.56,"v":0.6},{"s":"TL","h":23.62,"v":0.5},{"s":"TL","h":23.71,"v":0.6},{"s":"TL","h":23.8,"v":0.6},{"s":"TL","h":23.89,"v":0.7},{"s":"TL","h":24.05,"v":1.5},{"s":"TL","h":24.15,"v":1.5},{"s":"TL","h":24.25,"v":1.4},{"s":"TL","h":24.33,"v":1.4},{"s":"TL","h":24.47,"v":1.3},{"s":"TL","h":24.65,"v":1.0},{"s":"TL","h":24.73,"v":1.0},{"s":"TL","h":24.87,"v":0.8},{"s":"TL","h":24.95,"v":1.0},{"s":"TL","h":25.05,"v":1.1},{"s":"TL","h":25.13,"v":1.0},{"s":"TL","h":25.22,"v":1.0},{"s":"TL","h":25.31,"v":1.1},{"s":"TL","h":25.4,"v":1.1},{"s":"TL","h":25.49,"v":1.0},{"s":"TL","h":25.58,"v":1.0},{"s":"TL","h":25.67,"v":0.9},{"s":"TL","h":25.7,"v":1.4},{"s":"TL","h":25.85,"v":1.25},{"s":"TL","h":26.02,"v":1.0},{"s":"TL","h":26.11,"v":1.8},{"s":"TL","h":26.15,"v":2.0},{"s":"TL","h":26.25,"v":2.2},{"s":"TL","h":26.38,"v":2.05},{"s":"TL","h":26.47,"v":2.5},{"s":"TL","h":26.55,"v":2.5},{"s":"TL","h":26.69,"v":1.9},{"s":"TL","h":26.8,"v":1.6},{"s":"TL","h":26.89,"v":1.6},{"s":"TL","h":26.95,"v":2.1},{"s":"TL","h":27.09,"v":1.7},{"s":"TL","h":27.22,"v":1.5},{"s":"TL","h":27.31,"v":1.3},{"s":"TL","h":27.4,"v":1.3},{"s":"TL","h":27.55,"v":1.9},{"s":"TL","h":27.67,"v":1.8},{"s":"TL","h":27.8,"v":1.6},{"s":"TL","h":27.89,"v":1.8},{"s":"TL","h":27.98,"v":1.7},{"s":"TL","h":28.07,"v":1.7},{"s":"TL","h":28.15,"v":1.5},{"s":"TL","h":28.25,"v":1.5},{"s":"TL","h":28.33,"v":1.4},{"s":"TL","h":28.45,"v":1.4},{"s":"TL","h":28.55,"v":1.2},{"s":"TL","h":28.69,"v":2.2},{"s":"TL","h":28.79,"v":2.4},{"s":"TL","h":28.88,"v":2.4},{"s":"TL","h":28.97,"v":2.2},{"s":"TL","h":29.09,"v":2.2},{"s":"TL","h":29.13,"v":2.1},{"s":"TL","h":29.27,"v":2.1},{"s":"TL","h":29.4,"v":1.9},{"s":"TL","h":29.53,"v":1.6},{"s":"TL","h":29.6,"v":1.6},{"s":"TL","h":29.67,"v":1.7},{"s":"TL","h":29.8,"v":3.0},{"s":"TL","h":29.96,"v":2.8},{"s":"TL","h":30.14,"v":3.0},{"s":"TL","h":30.25,"v":2.9},{"s":"TL","h":30.38,"v":2.6},{"s":"TL","h":30.56,"v":2.2},{"s":"TL","h":30.82,"v":2.2},{"s":"TL","h":30.89,"v":2.3},{"s":"TL","h":30.98,"v":2.0},{"s":"TL","h":31.13,"v":1.8},{"s":"TL","h":31.22,"v":1.9},{"s":"TL","h":31.4,"v":2.5},{"s":"TL","h":31.49,"v":2.4},{"s":"TL","h":31.58,"v":2.4},{"s":"TL","h":31.67,"v":2.3},{"s":"TL","h":31.78,"v":2.3},{"s":"TL","h":31.91,"v":2.1},{"s":"TL","h":32.02,"v":2.35},{"s":"TL","h":32.15,"v":2.5},{"s":"TL","h":32.25,"v":2.4},{"s":"TL","h":32.33,"v":2.5},{"s":"TL","h":32.41,"v":2.5},{"s":"TL","h":32.51,"v":2.2},{"s":"TL","h":32.62,"v":2.1},{"s":"TL","h":32.73,"v":1.8},{"s":"TL","h":32.89,"v":1.8},{"s":"TL","h":32.98,"v":1.5}
    ]
  },
  "layer": [
    {
      "data": {"values": [{"h": 27, "h2": 33, "v": -0.15, "v2": -1.93}]},
      "mark": {"type": "rect", "color": "purple", "opacity": 0.2},
      "encoding": {
        "x": {"field": "h", "type": "quantitative", "title": "UTC time [hours]"},
        "x2": {"field": "h2"},
        "y": {"field": "v", "type": "quantitative", "title": "Temperature [ °C]"},
        "y2": {"field": "v2"}
      }
    },
    {
      "data": {"name": "tw"},
      "mark": {"type": "line", "strokeWidth": 2.1, "interpolate": "linear"},
      "encoding": {
        "x": {"field": "h", "type": "quantitative", "title": "UTC time [hours]",
          "scale": {"domain": [1.5, 34.5], "nice": false, "zero": false},
          "axis": {"values": [5, 10, 15, 20, 25, 30], "format": "d", "titlePadding": 5, "labelFlush": false}},
        "y": {"field": "v", "type": "quantitative", "title": "Temperature [ °C]",
          "scale": {"domain": [-5.22, 4.22], "nice": false, "zero": false},
          "axis": {"values": [-4, -2, 0, 2, 4], "format": "d", "titlePadding": 10, "labelFlush": false}},
        "color": {"field": "s", "type": "nominal",
          "scale": {"domain": ["TW_1", "TW_2", "TW_3", "TW_4", "TW_5", "TW_6", "TL", "sunrise", "Base min", "Method min", "Sander forecast", "95% confidence"],
                    "range": ["#000000", "#000000", "#000000", "#000000", "#000000", "#000000", "#1f77b4", "#ffff00", "#ff0000", "#800080", "#ff0000", "#e5cce5"]},
          "legend": {"title": null, "orient": "top-left", "offset": 8, "padding": 4, "rowPadding": 6.1,
            "labelFontSize": 13.9, "labelFont": "DejaVu Sans", "labelColor": "black", "labelLimit": 300,
            "symbolSize": 100, "symbolStrokeWidth": 2.1, "symbolOffset": 7, "labelOffset": 17,
            "strokeColor": "#cccccc", "fillColor": "rgba(255,255,255,0.8)", "cornerRadius": 3,
            "encode": {"symbols": {"update": {
              "shape": {"signal": "datum.value === 'Sander forecast' ? 'M-0.83,-0.83L0.83,0.83M-0.83,0.83L0.83,-0.83' : (datum.value === '95% confidence' ? 'M-2.8,-0.97H2.8V0.97H-2.8Z' : 'M-2.8,0H2.8')"},
              "fill": {"signal": "datum.value === '95% confidence' ? '#e5cce5' : 'transparent'"},
              "strokeWidth": {"signal": "datum.value === '95% confidence' ? 0 : (datum.value === 'Sander forecast' ? 1.4 : 2.1)"},
              "opacity": {"value": 1}
            }}}}
        }
      }
    },
    {
      "data": {"values": [{"h": 7.72}, {"h": 31.72}]},
      "mark": {"type": "rule", "color": "#ffff00", "strokeWidth": 2.1},
      "encoding": {"x": {"field": "h", "type": "quantitative", "title": "UTC time [hours]"}}
    },
    {
      "data": {"values": [{"v": -1.18}]},
      "mark": {"type": "rule", "color": "#ff0000", "strokeWidth": 2.1},
      "encoding": {"y": {"field": "v", "type": "quantitative", "title": "Temperature [ °C]"}}
    },
    {
      "data": {"values": [{"v": -1.05}]},
      "mark": {"type": "rule", "color": "#800080", "strokeWidth": 2.1},
      "encoding": {"y": {"field": "v", "type": "quantitative", "title": "Temperature [ °C]"}}
    },
    {
      "data": {"values": [{"h": 27.0}]},
      "mark": {"type": "rule", "color": "#808080", "strokeWidth": 2.1},
      "encoding": {"x": {"field": "h", "type": "quantitative", "title": "UTC time [hours]"}}
    },
    {
      "data": {"values": [{"h": 27, "v": -0.79}, {"h": 28, "v": -1.19}, {"h": 29, "v": -0.46}, {"h": 30, "v": -0.03}, {"h": 31, "v": -0.59}, {"h": 32, "v": -0.32}]},
      "mark": {"type": "point", "shape": "M-1,-1L1,1M-1,1L1,-1", "size": 69, "filled": false, "color": "#ff0000", "strokeWidth": 1.4, "opacity": 1},
      "encoding": {
        "x": {"field": "h", "type": "quantitative", "title": "UTC time [hours]"},
        "y": {"field": "v", "type": "quantitative", "title": "Temperature [ °C]"}
      }
    }
  ]
}
